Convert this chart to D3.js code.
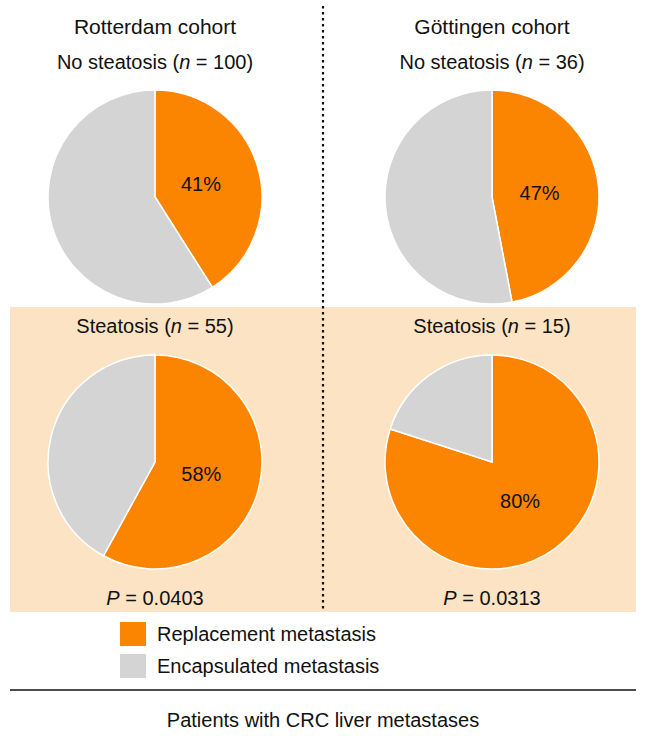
<!DOCTYPE html>
<html><head><meta charset="utf-8">
<script src="https://cdn.jsdelivr.net/npm/d3@7"></script>
<style>body{margin:0;background:#fff}text{font-family:"Liberation Sans",Arial,sans-serif;fill:#111}</style>
</head><body>
<script>
// data
const cohorts = ['Rotterdam cohort', 'Göttingen cohort'];
const groups = ['No steatosis', 'Steatosis'];
const nValues = [[100, 55], [36, 15]];           // [cohort][group]
const replacementPct = [[41, 58], [47, 80]];     // [cohort][group]
const pValues = ['0.0403', '0.0313'];
const legendLabels = ['Replacement metastasis', 'Encapsulated metastasis'];
const colors = ['#fb8500', '#d4d4d4'];

const W = 646, H = 736, R = 107;
const svg = d3.select('body').append('svg').attr('width', W).attr('height', H);

// steatosis background
svg.append('rect').attr('x', 10).attr('y', 307).attr('width', 626).attr('height', 305).attr('fill', '#fbe3c4');

// divider
svg.append('line').attr('x1', 323).attr('x2', 323).attr('y1', 6).attr('y2', 610)
  .attr('stroke', '#111').attr('stroke-width', 2.2).attr('stroke-dasharray', '2.5,3.5');

const xc = d3.scalePoint().domain(cohorts).range([155, 492]);
const yc = d3.scalePoint().domain(groups).range([197, 462]);
const pie = d3.pie().sort(null).value(d => d);
const arc = d3.arc().innerRadius(0).outerRadius(R);
const labelArc = d3.arc().innerRadius(R * 0.86).outerRadius(R * 0.86);

cohorts.forEach((c, ci) => {
  svg.append('text').attr('x', xc(c)).attr('y', 34).attr('text-anchor', 'middle')
    .attr('font-size', 21).text(c);
  groups.forEach((gname, gi) => {
    const cx = xc(c), cy = yc(gname);
    const t = svg.append('text').attr('x', cx).attr('y', cy - R - 22 + (gi ? 0 : 1))
      .attr('text-anchor', 'middle').attr('font-size', 20);
    t.append('tspan').text(gname + ' (');
    t.append('tspan').attr('font-style', 'italic').text('n');
    t.append('tspan').text(' = ' + nValues[ci][gi] + ')');
    const pct = replacementPct[ci][gi];
    const g = svg.append('g').attr('transform', `translate(${cx},${cy})`);
    const arcs = pie([pct, 100 - pct]);
    g.selectAll('path').data(arcs).join('path').attr('d', arc)
      .attr('fill', (d, i) => colors[i]).attr('stroke', '#fff').attr('stroke-width', 1.5);
    const cen = labelArc.centroid(arcs[0]);
    g.append('text').attr('x', cen[0] * 0.52).attr('y', cen[1] * 0.52 + 7)
      .attr('text-anchor', 'middle').attr('font-size', 20).text(pct + '%');
  });
  const pt = svg.append('text').attr('x', xc(c)).attr('y', 605).attr('text-anchor', 'middle').attr('font-size', 20);
  pt.append('tspan').attr('font-style', 'italic').text('P');
  pt.append('tspan').text(' = ' + pValues[ci]);
});

// legend
const ly = d3.scalePoint().domain(legendLabels).range([634, 666]);
legendLabels.forEach((l, i) => {
  svg.append('rect').attr('x', 120).attr('y', ly(l) - 12).attr('width', 26).attr('height', 24).attr('fill', colors[i]);
  svg.append('text').attr('x', 157).attr('y', ly(l) + 7).attr('font-size', 20).text(l);
});

svg.append('line').attr('x1', 10).attr('x2', 636).attr('y1', 690).attr('y2', 690).attr('stroke', '#111').attr('stroke-width', 1.5);
svg.append('text').attr('x', 323).attr('y', 727).attr('text-anchor', 'middle').attr('font-size', 20)
  .text('Patients with CRC liver metastases');
</script>
</body></html>
